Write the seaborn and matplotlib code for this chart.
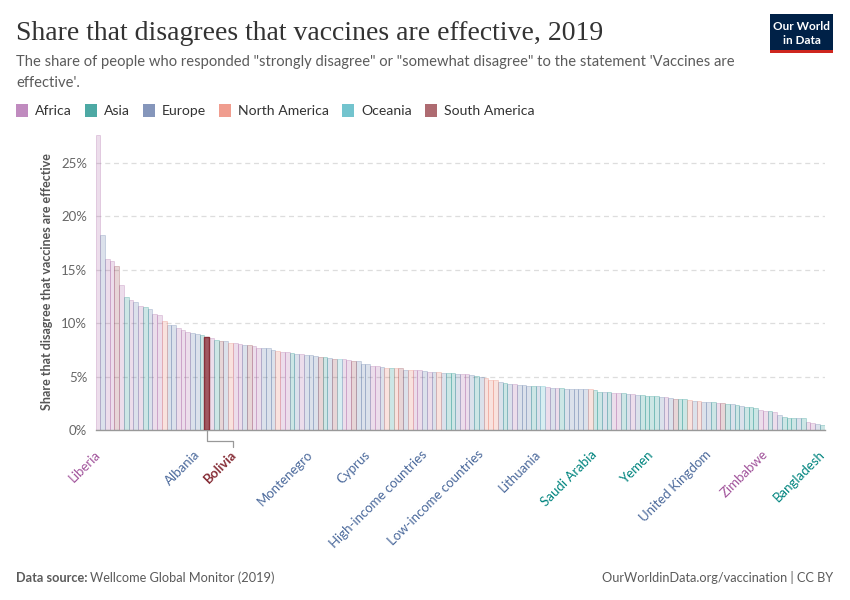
import numpy as np
import pandas as pd
import matplotlib.pyplot as plt
import matplotlib.transforms as mtrans
from matplotlib.colors import to_rgba
from matplotlib.patches import Rectangle
import seaborn as sns

# share disagreeing (%), sorted descending, one value per country / group
values = [
    27.6, 18.3, 16.0, 15.8, 15.4, 13.6, 12.45, 12.2, 12.0, 11.6,
    11.55, 11.3, 10.86, 10.77, 10.2, 9.83, 9.83, 9.55, 9.4, 9.18,
    9.05, 8.99, 8.86, 8.7, 8.58, 8.39, 8.33, 8.33, 8.15, 8.15,
    8.08, 7.96, 7.96, 7.87, 7.71, 7.71, 7.68, 7.49, 7.4, 7.3,
    7.3, 7.18, 7.12, 7.12, 7.05, 7.02, 6.9, 6.84, 6.8, 6.78,
    6.65, 6.65, 6.62, 6.55, 6.46, 6.46, 6.21, 6.15, 6.02, 5.96,
    5.9, 5.8, 5.8, 5.8, 5.8, 5.65, 5.65, 5.62, 5.6, 5.52,
    5.46, 5.44, 5.44, 5.34, 5.34, 5.34, 5.27, 5.25, 5.2, 5.16,
    5.05, 4.96, 4.84, 4.71, 4.7, 4.52, 4.4, 4.34, 4.3, 4.21,
    4.2, 4.12, 4.1, 4.1, 4.1, 4.05, 3.96, 3.93, 3.93, 3.84,
    3.84, 3.84, 3.84, 3.84, 3.84, 3.75, 3.6, 3.58, 3.53, 3.5,
    3.45, 3.43, 3.4, 3.38, 3.3, 3.28, 3.22, 3.18, 3.15, 3.1,
    3.06, 3.0, 2.93, 2.9, 2.87, 2.8, 2.76, 2.72, 2.65, 2.59,
    2.59, 2.5, 2.5, 2.43, 2.43, 2.34, 2.28, 2.18, 2.12, 2.03,
    1.87, 1.78, 1.78, 1.65, 1.43, 1.25, 1.12, 1.12, 1.12, 1.1,
    0.75, 0.62, 0.6, 0.44,
]

# F=Africa A=Asia E=Europe N=North America O=Oceania S=South America
region_codes = (
    "FEFFSFAFEF" "AEFFNEEFFF" "EEASFASENF" "FESFFEEENF"
    "FAEFEEESAE" "SOFFSEEEFF" "ENANSENFFE" "FENEAAEFFE"
    "AENNNEAEFE" "EEAEOFEFAE" "EEEENAAEAF" "FAEFEAAAAE"
    "FESAANENEE" "AFSAEAEAAA" "FFAFEAAAEA" "FFEA"
)

tick_labels = {
    0: "Liberia", 21: "Albania", 45: "Montenegro", 57: "Cyprus",
    69: "High-income countries", 81: "Low-income countries", 93: "Lithuania",
    105: "Saudi Arabia", 117: "Yemen", 129: "United Kingdom",
    141: "Zimbabwe", 153: "Bangladesh",
}
highlight_pos = 23
highlight_name = "Bolivia"

region_names = {"F": "Africa", "A": "Asia", "E": "Europe", "N": "North America",
                "O": "Oceania", "S": "South America"}
region_colors = {"Africa": "#a2559c", "Asia": "#00847e", "Europe": "#4c6a9c",
                 "North America": "#e56e5a", "Oceania": "#38aaba", "South America": "#883039"}
legend_colors = {"Africa": "#c08bbf", "Asia": "#4da9a4", "Europe": "#8596bb",
                 "North America": "#f09d8f", "Oceania": "#73c4ce", "South America": "#ae6b71"}

df = pd.DataFrame({
    "pos": range(len(values)),
    "share": values,
    "region": [region_names[c] for c in region_codes],
})

sns.set_style("white")
plt.rcParams["font.family"] = ["Lato", "DejaVu Sans"]

W, H = 850, 600
fig = plt.figure(figsize=(8.5, 6), dpi=100)
ax = fig.add_axes([95.5 / W, 170 / H, 729 / W, 295 / H])

sns.barplot(data=df, x="pos", y="share", hue="region", palette=region_colors,
            dodge=False, width=1.0, saturation=1, legend=False, ax=ax)

for p in ax.patches:
    i = int(round(p.get_x() + p.get_width() / 2))
    if i < 0 or i >= len(values):
        continue
    col = region_colors[df.region[i]]
    if i == highlight_pos:
        p.set_facecolor(to_rgba(col, 0.8))
        p.set_edgecolor(col)
        p.set_linewidth(1.0)
        p.set_zorder(3)
    else:
        p.set_facecolor(to_rgba(col, 0.2))
        p.set_edgecolor(to_rgba(col, 0.28))
        p.set_linewidth(0.6)

ax.set_xlim(-0.5, len(values) - 0.5)
ax.set_ylim(0, 27.62)
ax.set_yticks([0, 5, 10, 15, 20, 25])
ax.set_yticklabels([f"{v}%" for v in [0, 5, 10, 15, 20, 25]], color="#666666", fontsize=9.5)
ax.yaxis.grid(True, linestyle=(0, (4, 3)), color="#dddddd", linewidth=0.9)
ax.set_axisbelow(True)
for s in ["top", "right", "left"]:
    ax.spines[s].set_visible(False)
ax.spines["bottom"].set_color("#999999")
ax.spines["bottom"].set_linewidth(1.0)
ax.tick_params(axis="y", length=0, pad=6)
ax.set_xlabel("")
ax.set_ylabel("")

pos = list(tick_labels.keys())
ax.set_xticks(pos)
ax.set_xticklabels([tick_labels[k] for k in pos], rotation=45, ha="right",
                   rotation_mode="anchor", fontsize=9.5)
ax.tick_params(axis="x", length=10, color="#bbbbbb", width=0.8, pad=3)
shift = mtrans.ScaledTranslation(-4 / 100, 0, fig.dpi_scale_trans)
for lab, k in zip(ax.get_xticklabels(), pos):
    lab.set_color(region_colors[df.region[k]])
    lab.set_transform(lab.get_transform() + shift)

# highlighted label with connector
bw = 729 / len(values)
off = 26 / bw
tr = ax.get_xaxis_transform()
y1, y2 = -11 / 295, -17 / 295
ax.plot([highlight_pos, highlight_pos, highlight_pos + off, highlight_pos + off],
        [0, y1, y1, y2], transform=tr, color="#999999", lw=0.9, clip_on=False)
ax.text(highlight_pos + off - 0.6, y2 - 0.005, highlight_name, transform=tr, rotation=45,
        ha="right", va="top", rotation_mode="anchor", fontsize=9.5, fontweight="bold",
        color=region_colors["South America"])

fig.text(47 / W, 1 - 282 / H, "Share that disagree that vaccines are effective", rotation=90,
         ha="center", va="center", fontsize=9, fontweight="bold", color="#555555")

# header
fig.text(16 / W, 1 - 40 / H, "Share that disagrees that vaccines are effective, 2019",
         fontsize=20, family=["Liberation Serif", "DejaVu Serif"], color="#333333", va="baseline")
fig.text(16 / W, 1 - 66 / H, "The share of people who responded \"strongly disagree\" or \"somewhat disagree\" to the statement 'Vaccines are",
         fontsize=10.65, color="#5b5b5b", va="baseline")
fig.text(16 / W, 1 - 87 / H, "effective'.", fontsize=10.65, color="#5b5b5b", va="baseline")

# legend
fig.canvas.draw()
renderer = fig.canvas.get_renderer()
x = 16
for name in region_colors:
    fig.patches.append(Rectangle((x / W, 1 - 117 / H), 12 / W, 13 / H, transform=fig.transFigure,
                                 facecolor=legend_colors[name], edgecolor="none"))
    t = fig.text((x + 19) / W, 1 - 115 / H, name, fontsize=10.1, color="#333333", va="baseline")
    w = t.get_window_extent(renderer).width
    x = x + 19 + w + 13

# logo
fig.patches.append(Rectangle((770 / W, 1 - 50 / H), 63 / W, 36 / H, transform=fig.transFigure,
                             facecolor="#002147", edgecolor="none"))
fig.patches.append(Rectangle((770 / W, 1 - 53 / H), 63 / W, 3 / H, transform=fig.transFigure,
                             facecolor="#ce261e", edgecolor="none"))
fig.text(801.5 / W, 1 - 27 / H, "Our World", ha="center", va="center", fontsize=8.5,
         color="white", fontweight="bold")
fig.text(801.5 / W, 1 - 41 / H, "in Data", ha="center", va="center", fontsize=8.5,
         color="white", fontweight="bold")

# footer
t = fig.text(16 / W, 1 - 582 / H, "Data source:", fontsize=9.2, fontweight="bold", color="#5b5b5b", va="baseline")
w = t.get_window_extent(renderer).width
fig.text((16 + w + 3) / W, 1 - 582 / H, "Wellcome Global Monitor (2019)", fontsize=9.2, color="#5b5b5b", va="baseline")
fig.text(833 / W, 1 - 582 / H, "OurWorldinData.org/vaccination | CC BY", fontsize=9.2,
         color="#5b5b5b", ha="right", va="baseline")

fig.savefig("out.png", dpi=100)
